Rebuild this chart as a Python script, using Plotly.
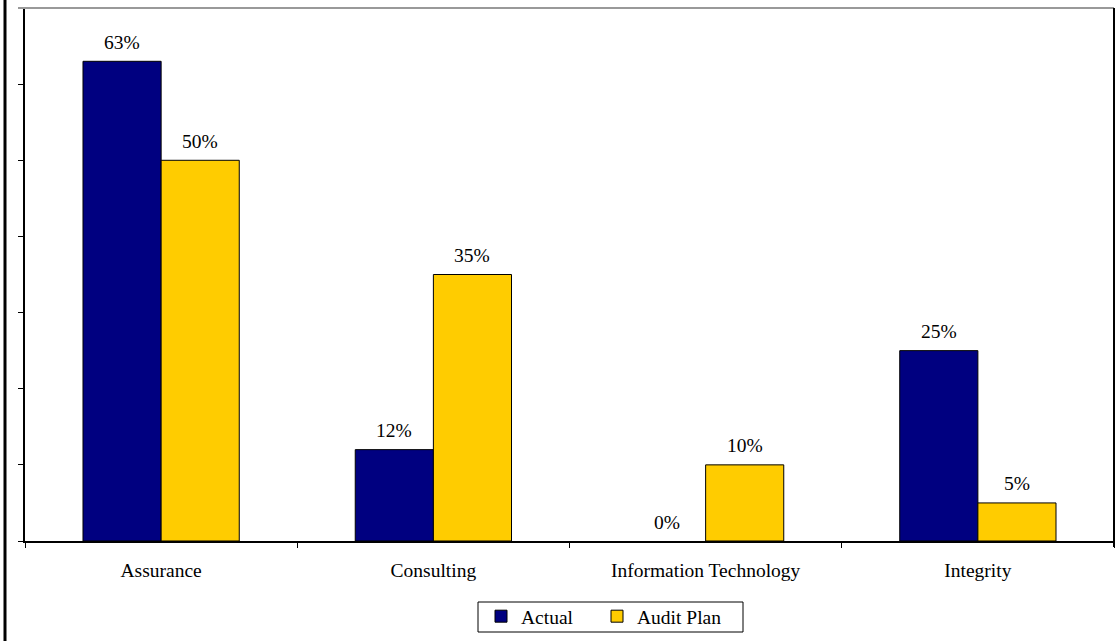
import plotly.graph_objects as go

categories = ["Assurance", "Consulting", "Information Technology", "Integrity"]
actual = [0.63, 0.12, 0.0, 0.25]
audit_plan = [0.50, 0.35, 0.10, 0.05]
series_names = ["Actual", "Audit Plan"]

NAVY = "#000080"
GOLD = "#FFCC00"
FONT = "Times New Roman, Liberation Serif, serif"
FS = 19.5

def outline(vals):
    return [1 if v > 0 else 0 for v in vals]

fig = go.Figure()
fig.add_trace(go.Bar(name=series_names[0], x=categories, y=actual, legend="legend",
                     marker=dict(color=NAVY, line=dict(color="black", width=outline(actual)))))
fig.add_trace(go.Bar(name=series_names[1], x=categories, y=audit_plan, legend="legend2",
                     marker=dict(color=GOLD, line=dict(color="black", width=outline(audit_plan)))))

# value labels above bars
bar_half = 39
for vals, shift in ((actual, -bar_half), (audit_plan, bar_half)):
    for c, v in zip(categories, vals):
        fig.add_annotation(x=c, y=v, xref="x", yref="y", text=f"{v:.0%}",
                           showarrow=False, xshift=shift, yshift=19, yanchor="middle",
                           font=dict(family=FONT, size=FS, color="black"))

W, H = 1117, 641
ml, mr, mt, mb = 25, 3, 8, 100
pw, ph = W - ml - mr, H - mt - mb

def px_x(p):
    return (p - ml) / pw

def px_y(p):
    return (H - mb - p) / ph

shapes = [
    dict(type="line", xref="paper", yref="paper", x0=px_x(5), x1=px_x(5), y0=px_y(0), y1=px_y(H),
         line=dict(color="black", width=3)),
    dict(type="line", xref="paper", yref="paper", x0=px_x(18), x1=px_x(1114), y0=px_y(8), y1=px_y(8),
         line=dict(color="#999999", width=2)),
    dict(type="line", xref="paper", yref="paper", x0=px_x(1114), x1=px_x(1114), y0=px_y(8), y1=px_y(547),
         line=dict(color="black", width=2)),
    # legend frame
    dict(type="rect", xref="paper", yref="paper", x0=px_x(478), x1=px_x(743), y0=px_y(602), y1=px_y(632),
         line=dict(color="black", width=1)),
]

legend_common = dict(orientation="h", xanchor="left", yanchor="top", borderwidth=0,
                     bgcolor="rgba(0,0,0,0)", font=dict(family=FONT, size=FS), itemwidth=30)

fig.update_layout(
    width=W, height=H,
    margin=dict(l=ml, r=mr, t=mt, b=mb, autoexpand=False),
    paper_bgcolor="white", plot_bgcolor="white",
    barmode="group", bargap=0.426, bargroupgap=0,
    font=dict(family=FONT, size=FS, color="black"),
    showlegend=True,
    legend=dict(x=px_x(481), y=px_y(597), **legend_common),
    legend2=dict(x=px_x(597), y=px_y(597), **legend_common),
    shapes=shapes,
    xaxis=dict(type="category", showline=True, linecolor="black", linewidth=1.5,
               ticks="outside", ticklen=5, tickcolor="black", tickson="boundaries",
               showgrid=False, tickfont=dict(family=FONT, size=FS), ticklabelstandoff=11,
               automargin=False),
    yaxis=dict(range=[0, 0.7], dtick=0.1, showline=True, linecolor="black", linewidth=1.5,
               ticks="outside", ticklen=5, tickcolor="black", showticklabels=False,
               showgrid=False, zeroline=False, automargin=False),
)

fig.write_html("out.html")
